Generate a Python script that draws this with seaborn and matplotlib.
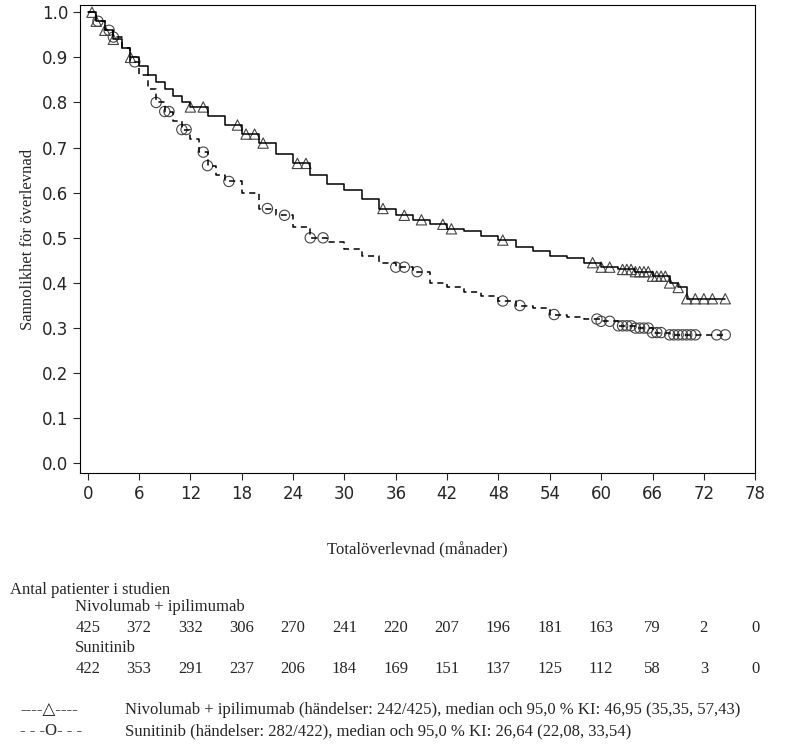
import matplotlib
matplotlib.use('Agg')
import matplotlib.pyplot as plt
import matplotlib.transforms as mtransforms
import seaborn as sns
import pandas as pd
import numpy as np

# Kaplan-Meier curves
nivo_t = [0, 1, 2, 3, 4, 5, 6, 7, 8, 9, 10, 11, 12, 14, 16, 18, 20, 22, 24, 26, 28, 30, 32, 34, 36, 38,
          40, 42, 44, 46, 48, 50, 52, 54, 56, 58, 60, 62, 64, 66, 68, 69, 70, 72, 74.5]
nivo_s = [1.0, 0.98, 0.96, 0.94, 0.92, 0.90, 0.88, 0.86, 0.845, 0.83, 0.815, 0.80, 0.79, 0.77, 0.75, 0.73,
          0.71, 0.685, 0.665, 0.64, 0.62, 0.605, 0.585, 0.565, 0.55, 0.54, 0.53, 0.52, 0.515, 0.505, 0.495,
          0.48, 0.47, 0.46, 0.455, 0.445, 0.435, 0.43, 0.425, 0.415, 0.40, 0.39, 0.365, 0.365, 0.365]
suni_t = [0, 1, 2, 3, 4, 5, 6, 7, 8, 9, 10, 11, 12, 13, 14, 15, 16, 18, 20, 22, 24, 26, 28, 30, 32, 34,
          36, 38, 40, 42, 44, 46, 48, 50, 52, 54, 56, 58, 60, 62, 64, 66, 68, 72, 74.5]
suni_s = [1.0, 0.98, 0.96, 0.945, 0.92, 0.89, 0.86, 0.83, 0.80, 0.78, 0.76, 0.74, 0.72, 0.69, 0.66, 0.64,
          0.625, 0.60, 0.565, 0.55, 0.525, 0.50, 0.49, 0.475, 0.46, 0.445, 0.435, 0.425, 0.40, 0.39, 0.38,
          0.37, 0.36, 0.35, 0.345, 0.33, 0.325, 0.32, 0.315, 0.305, 0.30, 0.29, 0.285, 0.285, 0.285]

# censoring times
nivo_cens = [0.5, 1, 2, 3, 5, 12, 13.5, 17.5, 18.5, 19.5, 20.5, 24.5, 25.5, 34.5, 37, 39, 41.5, 42.5, 48.5,
             59, 60, 61, 62.5, 63, 63.5, 64, 64.5, 65, 65.5, 66, 66.5, 67, 67.5, 68, 69, 70, 71, 72, 73, 74.5]
suni_cens = [1.2, 2.5, 3, 5.5, 8, 9, 9.5, 11, 11.5, 13.5, 14, 16.5, 21, 23, 26, 27.5, 36, 37, 38.5, 48.5,
             50.5, 54.5, 59.5, 60, 61, 62, 62.5, 63, 63.5, 64, 64.5, 65, 65.5, 66, 66.5, 67, 68, 68.5, 69,
             69.5, 70, 70.5, 71, 73.5, 74.5]

xticks = list(range(0, 79, 6))
nivo_risk = [425, 372, 332, 306, 270, 241, 220, 207, 196, 181, 163, 79, 2, 0]
suni_risk = [422, 353, 291, 237, 206, 184, 169, 151, 137, 125, 112, 58, 3, 0]


def surv_at(ts, ss, t):
    i = np.searchsorted(ts, t, side='right') - 1
    return ss[i]


sns.set_style('white')
plt.rcParams['font.family'] = ['Liberation Serif', 'DejaVu Sans']

fig = plt.figure(figsize=(8, 7.49), dpi=100)
ax = fig.add_axes([0.1, 0.368, 0.844, 0.625])

df_n = pd.DataFrame({'t': nivo_t, 's': nivo_s})
df_s = pd.DataFrame({'t': suni_t, 's': suni_s})
sns.lineplot(data=df_n, x='t', y='s', ax=ax, drawstyle='steps-post', color='black', lw=1.1)
sns.lineplot(data=df_s, x='t', y='s', ax=ax, drawstyle='steps-post', color='black', lw=1.1,
             linestyle=(0, (4, 3)))

cn = pd.DataFrame({'t': nivo_cens, 's': [surv_at(nivo_t, nivo_s, t) for t in nivo_cens]})
cs = pd.DataFrame({'t': suni_cens, 's': [surv_at(suni_t, suni_s, t) for t in suni_cens]})
sns.scatterplot(data=cn, x='t', y='s', ax=ax, marker='^', s=55, facecolor='none', edgecolor='#444444',
                linewidth=0.8)
sns.scatterplot(data=cs, x='t', y='s', ax=ax, marker='o', s=55, facecolor='none', edgecolor='#444444',
                linewidth=0.8)

ax.set_xlim(-0.9, 78)
ax.set_ylim(-0.022, 1.0155)
ax.set_xticks(xticks)
ax.set_yticks(np.arange(0, 1.01, 0.1))
ax.set_yticklabels([f'{v:.1f}' for v in np.arange(0, 1.01, 0.1)])
ax.tick_params(direction='out', length=5, width=0.8, labelsize=12, bottom=True, left=True)
for lab in ax.get_xticklabels() + ax.get_yticklabels():
    lab.set_family('DejaVu Sans')
for sp in ax.spines.values():
    sp.set_color('black')
    sp.set_linewidth(0.8)
ax.set_xlabel('Totalöverlevnad (månader)', fontsize=12, labelpad=28)
ax.set_ylabel('Sannolikhet för överlevnad', fontsize=12)

tr = mtransforms.blended_transform_factory(ax.transData, fig.transFigure)
fy = lambda py: 1 - py / 749
fig.text(10 / 800, fy(590), 'Antal patienter i studien', fontsize=12, va='center')
fig.text(75 / 800, fy(607), 'Nivolumab + ipilimumab', fontsize=12, va='center')
fig.text(75 / 800, fy(648), 'Sunitinib', fontsize=12, va='center')
for x, a, b in zip(xticks, nivo_risk, suni_risk):
    ax.text(x, fy(628), str(a), transform=tr, ha='center', va='center', fontsize=12)
    ax.text(x, fy(669), str(b), transform=tr, ha='center', va='center', fontsize=12)

fig.text(20 / 800, fy(710), '----△----', fontsize=12, va='center', family=['Liberation Serif', 'DejaVu Sans'])
fig.text(20 / 800, fy(731), '- - -O- - -', fontsize=12, va='center')
fig.text(125 / 800, fy(710), 'Nivolumab + ipilimumab (händelser: 242/425), median och 95,0 % KI: 46,95 (35,35, 57,43)',
         fontsize=12, va='center')
fig.text(125 / 800, fy(731), 'Sunitinib (händelser: 282/422), median och 95,0 % KI: 26,64 (22,08, 33,54)',
         fontsize=12, va='center')

fig.savefig('out.png', dpi=100)
